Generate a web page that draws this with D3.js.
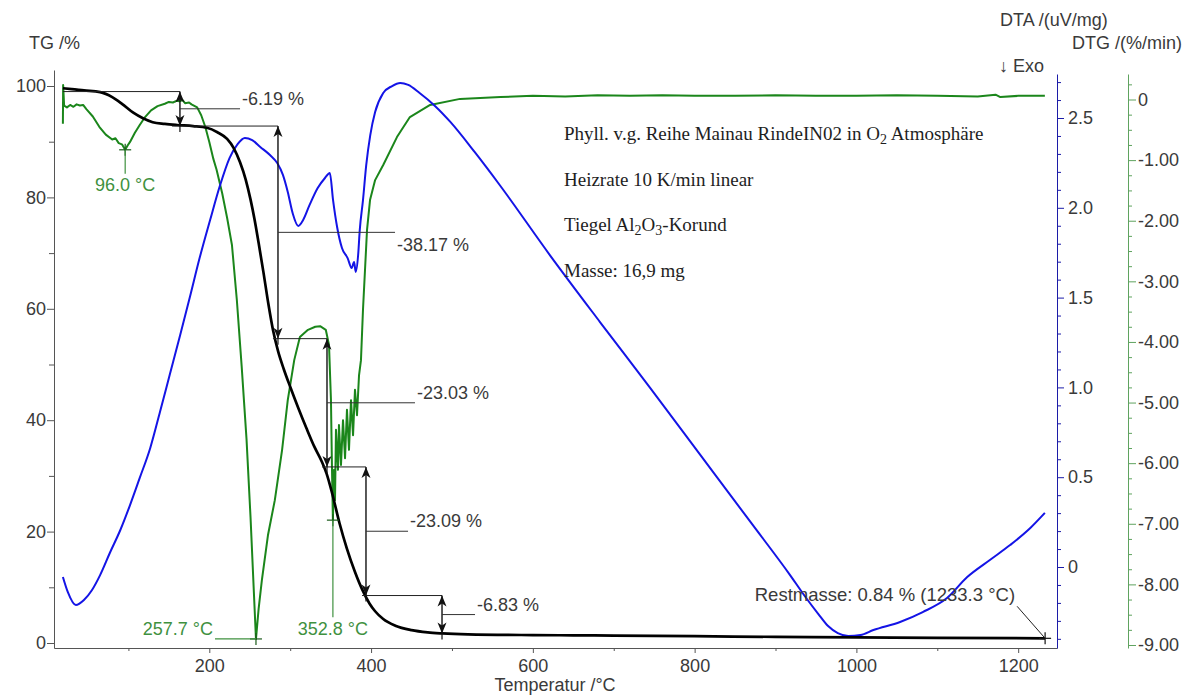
<!DOCTYPE html>
<html>
<head>
<meta charset="utf-8">
<script src="https://cdn.jsdelivr.net/npm/d3@7"></script>
<style>
  html, body { margin: 0; padding: 0; background: #ffffff; }
  svg { display: block; }
</style>
</head>
<body>
<svg id="chart" width="1192" height="695"></svg>
<script>
// ---------------- data ----------------
// temperature axis (°C)
const tempTicks = [200, 400, 600, 800, 1000, 1200];
const tempMinorTicks = [100, 300, 500, 700, 900, 1100];
// TG axis (%)
const tgTicks = [0, 20, 40, 60, 80, 100];
const tgMinorTicks = [10, 30, 50, 70, 90];
// DTA axis (uV/mg)
const dtaTicks = [0, 0.5, 1.0, 1.5, 2.0, 2.5];
const dtaTickLabels = ["0", "0.5", "1.0", "1.5", "2.0", "2.5"];
// DTG axis (%/min)
const dtgTicks = [0, -1, -2, -3, -4, -5, -6, -7, -8, -9];
const dtgTickLabels = ["0", "-1.00", "-2.00", "-3.00", "-4.00", "-5.00", "-6.00", "-7.00", "-8.00", "-9.00"];

// TG curve: [temperature °C, mass %]
const tgCurve = [
  [19, 99.6], [30, 99.45], [45, 99.2], [65, 98.9], [80, 98.0], [92, 96.8], [106, 95.2],
  [118, 94.2], [130, 93.5], [145, 93.2], [160, 93.0], [180, 92.8], [197, 92.5], [210, 91.7],
  [222, 90.5], [230, 88.9], [238, 86.3], [245, 83.2], [251, 79.6], [256, 76.0], [261, 71.8],
  [267, 66.5], [273, 60.9], [279, 56.0], [285, 52.4], [292, 49.2], [300, 46.0], [310, 42.2],
  [320, 38.6], [330, 35.2], [339, 32.6], [345, 30.4], [352, 26.8], [361, 21.5], [370, 17.0],
  [380, 12.8], [390, 9.3], [398, 7.1], [405, 5.7], [415, 4.3], [430, 3.1], [450, 2.3],
  [470, 1.9], [488, 1.72], [520, 1.55], [600, 1.42], [650, 1.38], [700, 1.33], [800, 1.22],
  [900, 1.1], [1000, 1.0], [1100, 0.93], [1233.3, 0.84]
];

// DTA curve: [temperature °C, uV/mg]
const dtaCurve = [
  [19, -0.056], [25, -0.139], [35, -0.212], [45, -0.184], [55, -0.128], [65, -0.045],
  [77, 0.078], [90, 0.206], [102, 0.345], [114, 0.496], [127, 0.663], [139, 0.863],
  [151, 1.069], [164, 1.292], [176, 1.503], [188, 1.720], [201, 1.932], [213, 2.121],
  [225, 2.277], [235, 2.355], [244, 2.389], [253, 2.377], [263, 2.339], [275, 2.294],
  [284, 2.249], [291, 2.183], [297, 2.088], [303, 1.971], [310, 1.899], [316, 1.932],
  [324, 2.016], [334, 2.110], [343, 2.166], [349, 2.194], [353, 2.043], [358, 1.893],
  [364, 1.776], [371, 1.720], [376, 1.665], [379, 1.698], [381, 1.643], [384, 1.737],
  [386, 1.876], [390, 2.043], [394, 2.238], [399, 2.405], [405, 2.533], [415, 2.639],
  [426, 2.678], [436, 2.695], [446, 2.684], [460, 2.639], [479, 2.567], [498, 2.478],
  [528, 2.311], [559, 2.127], [621, 1.737], [683, 1.364], [745, 0.997], [807, 0.624],
  [869, 0.251], [918, -0.045], [937, -0.167], [953, -0.262], [965, -0.329], [977, -0.368],
  [990, -0.384], [1005, -0.379], [1021, -0.351], [1054, -0.306], [1082, -0.251],
  [1112, -0.173], [1137, -0.056], [1165, 0.039], [1190, 0.122], [1215, 0.217], [1233, 0.301]
];

// DTG curve: [temperature °C, %/min]
const dtgCurve = [
  [19, -0.40], [19.3, 0.24], [20.5, -0.10], [24, -0.13], [28, -0.09], [32, -0.12],
  [36, -0.08], [40, -0.10], [44, -0.09], [48, -0.16], [56, -0.28], [64, -0.45],
  [72, -0.58], [80, -0.66], [84, -0.64], [88, -0.72], [92, -0.74], [96, -0.83],
  [99, -0.76], [102, -0.70], [108, -0.55], [114, -0.42], [120, -0.30], [128, -0.18],
  [136, -0.11], [145, -0.07], [150, -0.04], [155, -0.05], [160, -0.02], [163, -0.03],
  [167, -0.01], [170, -0.06], [175, -0.05], [178, -0.08], [185, -0.13], [190, -0.26],
  [195, -0.45], [200, -0.70], [205, -0.98], [209, -1.16], [216, -1.55], [222, -1.95],
  [228, -2.40], [234, -3.30], [240, -4.40], [246, -5.60], [251, -6.90], [255, -8.10],
  [257.7, -8.90], [261, -8.40], [265, -7.93], [272.5, -7.19], [281, -6.61], [290, -5.78],
  [297, -4.96], [305, -4.30], [312, -3.92], [322, -3.80], [331, -3.75], [337, -3.74],
  [344, -3.80], [348, -4.05], [350.4, -4.96], [351.7, -6.11], [352.8, -6.94],
  [354.2, -6.11], [355.4, -6.61], [356.6, -5.45], [359.1, -6.11], [360.3, -5.37],
  [362.8, -6.03], [365.3, -5.29], [367.8, -5.92], [370.2, -5.12], [372.7, -5.78],
  [375.2, -4.96], [377.7, -5.54], [380.1, -4.79], [382.6, -5.21], [385.1, -4.55],
  [387.5, -4.30], [390, -3.47], [392.5, -2.81], [395, -2.15], [398.7, -1.66],
  [405, -1.33], [415, -1.08], [432, -0.62], [448, -0.29], [473, -0.09], [510, 0.01],
  [560, 0.04], [600, 0.06], [640, 0.05], [680, 0.07], [720, 0.06], [760, 0.07],
  [800, 0.06], [850, 0.06], [900, 0.07], [950, 0.06], [1000, 0.06], [1050, 0.07],
  [1100, 0.06], [1150, 0.05], [1172, 0.08], [1178, 0.04], [1200, 0.06], [1233, 0.06]
];

// DTG peak temperatures and their values
const dtgPeakT = [96.0, 257.7, 352.8];
const dtgPeakV = [-0.83, -8.90, -6.94];

// TG mass-loss steps
const stepStartMass = 99.0;
const stepLoss = [-6.19, -38.17, -23.03, -23.09, -6.83];
const stepArrowT = [163.7, 284.9, 345.5, 393.7, 487.7];

// residual mass
const residualT = 1233.3;
const residualMass = 0.84;

// measurement notes (text, subscript flag)
const infoLines = [
  [["Phyll. v.g. Reihe Mainau RindeIN02 in O", 0], ["2", 1], [" Atmosphäre", 0]],
  [["Heizrate 10 K/min linear", 0]],
  [["Tiegel Al", 0], ["2", 1], ["O", 0], ["3", 1], ["-Korund", 0]],
  [["Masse: 16,9 mg", 0]]
];

// ---------------- layout ----------------
const SANS = "'Liberation Sans', Arial, sans-serif";
const SERIF = "'Liberation Serif', 'Times New Roman', serif";
const TEXT = "#3a3a3a";
const GREEN = "#1b861b";
const GREEN_TEXT = "#3f913f";
const GREEN_AXIS = "#5fa35f";
const BLUE = "#1414e6";
const BLUE_AXIS = "#1c1ca8";

const plotL = 54, plotR = 1057, plotT = 70, plotB = 648, rightTop = 74, dtgAxisX = 1128;

const svg = d3.select("#chart");

const x = d3.scaleLinear().domain([8, 1248]).range([plotL, plotR]);
const yTG = d3.scaleLinear().domain([0, 100]).range([643, 86]);
const yDTA = d3.scaleLinear().domain([0, 2.5]).range([567, 118]);
const yDTG = d3.scaleLinear().domain([0, -9]).range([99.5, 645]);

function extended(scale, top, bottom) {
  return d3.scaleLinear().domain([scale.invert(bottom), scale.invert(top)]).range([bottom, top]);
}

function styleAxis(g, color) {
  g.attr("font-family", null).attr("font-size", null);
  g.selectAll("path, line").attr("stroke", color).attr("stroke-width", 1);
  g.selectAll("text").attr("fill", TEXT).style("font-family", SANS).style("font-size", "18px");
}

// ---- temperature axis ----
svg.append("g").attr("transform", `translate(0,${plotB})`)
  .call(d3.axisBottom(x).tickValues(tempMinorTicks).tickSize(3).tickFormat("").tickSizeOuter(0))
  .call(g => styleAxis(g, "#555"));
svg.append("g").attr("transform", `translate(0,${plotB})`)
  .call(d3.axisBottom(x).tickValues(tempTicks).tickSize(5).tickPadding(6).tickFormat(d3.format("d")))
  .call(g => g.select(".domain").remove())
  .call(g => styleAxis(g, "#555"));

// ---- TG axis ----
const tgAxisScale = extended(yTG, plotT, plotB);
svg.append("g").attr("transform", `translate(${plotL},0)`)
  .call(d3.axisLeft(tgAxisScale).tickValues(tgMinorTicks).tickSize(5).tickFormat("").tickSizeOuter(0))
  .call(g => styleAxis(g, "#555"));
svg.append("g").attr("transform", `translate(${plotL},0)`)
  .call(d3.axisLeft(tgAxisScale).tickValues(tgTicks).tickSize(7).tickPadding(1).tickFormat(d3.format("d")))
  .call(g => g.select(".domain").remove())
  .call(g => styleAxis(g, "#555"));

// ---- DTA axis ----
const dtaAxisScale = extended(yDTA, rightTop, plotB);
const dtaMinor = d3.range(-4, 28).map(v => v / 10).filter(v => Math.abs(v * 2 - Math.round(v * 2)) > 1e-6);
svg.append("g").attr("transform", `translate(${plotR},0)`)
  .call(d3.axisRight(dtaAxisScale).tickValues(dtaMinor).tickSize(4).tickFormat("").tickSizeOuter(0))
  .call(g => styleAxis(g, BLUE_AXIS));
svg.append("g").attr("transform", `translate(${plotR},0)`)
  .call(d3.axisRight(dtaAxisScale).tickValues(dtaTicks).tickSize(7).tickPadding(4)
    .tickFormat((d, i) => dtaTickLabels[i]))
  .call(g => g.select(".domain").remove())
  .call(g => styleAxis(g, BLUE_AXIS));

// ---- DTG axis ----
const dtgAxisScale = extended(yDTG, rightTop, plotB);
const dtgMinor = d3.range(1, -36, -1).map(v => v / 4).filter(v => v !== Math.round(v));
svg.append("g").attr("transform", `translate(${dtgAxisX},0)`)
  .call(d3.axisRight(dtgAxisScale).tickValues(dtgMinor).tickSize(4).tickFormat("").tickSizeOuter(0))
  .call(g => styleAxis(g, GREEN_AXIS));
svg.append("g").attr("transform", `translate(${dtgAxisX},0)`)
  .call(d3.axisRight(dtgAxisScale).tickValues(dtgTicks).tickSize(8).tickPadding(2)
    .tickFormat((d, i) => dtgTickLabels[i]))
  .call(g => g.select(".domain").remove())
  .call(g => styleAxis(g, GREEN_AXIS));

// ---- axis titles ----
function label(txt, xp, yp, opts = {}) {
  return svg.append("text")
    .attr("x", xp).attr("y", yp)
    .attr("text-anchor", opts.anchor || "start")
    .attr("fill", opts.fill || TEXT)
    .style("font-family", opts.font || SANS)
    .style("font-size", (opts.size || 18) + "px")
    .text(txt);
}
label("TG /%", 29, 49);
label("DTA /(uV/mg)", 1000, 26);
label("DTG /(%/min)", 1072, 49);
label("\u2193 Exo", 999, 72);
label("Temperatur /°C", 555, 691, { anchor: "middle" });

// ---- curves ----
const dtgLine = d3.line().x(d => x(d[0])).y(d => yDTG(d[1]));
const dtaLine = d3.line().x(d => x(d[0])).y(d => yDTA(d[1])).curve(d3.curveMonotoneX);
const tgLine = d3.line().x(d => x(d[0])).y(d => yTG(d[1])).curve(d3.curveMonotoneX);

svg.append("path").datum(dtgCurve).attr("d", dtgLine)
  .attr("fill", "none").attr("stroke", GREEN).attr("stroke-width", 2).attr("stroke-linejoin", "round");
svg.append("path").datum(dtaCurve).attr("d", dtaLine)
  .attr("fill", "none").attr("stroke", BLUE).attr("stroke-width", 2).attr("stroke-linejoin", "round");
svg.append("path").datum(tgCurve).attr("d", tgLine)
  .attr("fill", "none").attr("stroke", "#000").attr("stroke-width", 2.7).attr("stroke-linejoin", "round");

// ---- helpers for annotations ----
function hline(x1, x2, yp, color = "#222", w = 1) {
  svg.append("line").attr("x1", x1).attr("x2", x2).attr("y1", yp).attr("y2", yp)
    .attr("stroke", color).attr("stroke-width", w);
}
function vline(xp, y1, y2, color = "#222", w = 1) {
  svg.append("line").attr("x1", xp).attr("x2", xp).attr("y1", y1).attr("y2", y2)
    .attr("stroke", color).attr("stroke-width", w);
}
function plus(xp, yp, s, color) {
  hline(xp - s, xp + s, yp, color, 1.2);
  vline(xp, yp - s, yp + s, color, 1.2);
}
function doubleArrow(xp, y1, y2) {
  vline(xp, y1, y2, "#111", 1.4);
  const hw = 4.5, hl = 11, notch = 8;
  svg.append("path")
    .attr("d", `M${xp},${y1} L${xp - hw},${y1 + hl} L${xp},${y1 + notch} L${xp + hw},${y1 + hl} Z`)
    .attr("fill", "#111");
  svg.append("path")
    .attr("d", `M${xp},${y2} L${xp - hw},${y2 - hl} L${xp},${y2 - notch} L${xp + hw},${y2 - hl} Z`)
    .attr("fill", "#111");
}

// ---- TG step annotations ----
const stepLevels = [stepStartMass];
stepLoss.forEach(v => stepLevels.push(+(stepLevels[stepLevels.length - 1] + v).toFixed(2)));
// where each level line begins on the curve and where each leader ends (°C)
const levelLineFromT = [19, 153.8, 278.7, 339.3, 388.8];
const leaderEndT = [238, 429.6, 454.3, 445.7, 528.5];
const labelBelow = [false, true, false, false, false];

stepLevels.slice(0, 5).forEach((lv, i) => {
  hline(x(levelLineFromT[i]), x(stepArrowT[i]), yTG(lv));
});
stepLoss.forEach((loss, i) => {
  const xa = x(stepArrowT[i]);
  const yTop = yTG(stepLevels[i]);
  const yBot = yTG(stepLevels[i + 1]);
  doubleArrow(xa, yTop, yBot);
  vline(xa, yBot, yBot + 6, "#111", 1.2);
  const ym = (yTop + yBot) / 2;
  const xe = x(leaderEndT[i]);
  hline(xa, xe, ym, "#333", 1);
  label(loss.toFixed(2) + " %", xe + 2, labelBelow[i] ? ym + 19 : ym - 4);
});

// ---- DTG peak labels ----
dtgPeakT.forEach((t, i) => {
  const px = x(t), py = yDTG(dtgPeakV[i]);
  plus(px, py, 6, "#1a5a1a");
  const txt = t.toFixed(1) + " °C";
  if (i === 0) {
    vline(px, py, py + 24, GREEN_TEXT, 1.2);
    label(txt, px, py + 41, { anchor: "middle", fill: GREEN_TEXT });
  } else if (i === 1) {
    hline(px - 41, px, py, GREEN_TEXT, 1.2);
    label(txt, px - 43, py - 4, { anchor: "end", fill: GREEN_TEXT });
  } else {
    vline(px, py, py + 97, GREEN_TEXT, 1.2);
    label(txt, px, py + 115, { anchor: "middle", fill: GREEN_TEXT });
  }
});

// ---- residual mass ----
{
  const mx = x(residualT), my = yTG(residualMass);
  plus(mx, my, 6, "#111");
  svg.append("line").attr("x1", mx - 28).attr("y1", my - 32).attr("x2", mx).attr("y2", my)
    .attr("stroke", "#222").attr("stroke-width", 1);
  label(`Restmasse: ${residualMass.toFixed(2)} % (${residualT.toFixed(1)} °C)`, mx - 30, my - 37,
    { anchor: "end", size: 18.5 });
}

// ---- measurement notes ----
infoLines.forEach((segs, i) => {
  const t = svg.append("text")
    .attr("x", 564).attr("y", 140 + i * 45.5)
    .attr("fill", "#1e1e1e")
    .style("font-family", SERIF)
    .style("font-size", "19px");
  let shifted = false;
  segs.forEach(([s, sub]) => {
    const ts = t.append("tspan").text(s);
    if (sub && !shifted) { ts.attr("dy", 4).style("font-size", "14px"); shifted = true; }
    else if (!sub && shifted) { ts.attr("dy", -4); shifted = false; }
  });
});
</script>
</body>
</html>
